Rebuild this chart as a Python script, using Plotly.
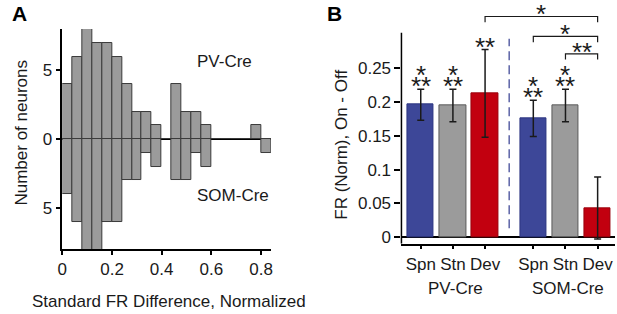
import plotly.graph_objects as go

# ---------------- Data ----------------
# Panel A: histogram of standardized FR difference (bin width 0.04)
bin_centers = [0.02, 0.06, 0.10, 0.14, 0.18, 0.22, 0.26, 0.30, 0.34, 0.38, 0.42,
               0.46, 0.50, 0.54, 0.58, 0.62, 0.66, 0.70, 0.74, 0.78, 0.82]
pv_counts = [4, 6, 8, 7, 7, 6, 4, 2, 2, 1, 0, 4, 2, 2, 1, 0, 0, 0, 0, 1, 0]
som_counts = [4, 6, 9, 9, 6, 6, 3, 3, 1, 2, 0, 3, 3, 1, 2, 0, 0, 0, 0, 0, 1]
a_xticks = [0, 0.2, 0.4, 0.6, 0.8]
a_xticktext = ["0", "0.2", "0.4", "0.6", "0.8"]
a_yticks = [-5, 0, 5]
a_yticktext = ["5", "0", "5"]

# Panel B: FR (Norm) On - Off
b_labels = ["Spn", "Stn", "Dev", "Spn", "Stn", "Dev"]
b_pos = [1, 2, 3, 4.5, 5.5, 6.5]
b_means = [0.196, 0.195, 0.213, 0.176, 0.195, 0.043]
b_errs = [0.023, 0.024, 0.065, 0.027, 0.024, 0.046]
b_colors = ["#3d4798", "#9b9b9b", "#c2000f", "#3d4798", "#9b9b9b", "#c2000f"]
b_edges = ["#2c3580", "#5a5a5a", "#9a000c", "#2c3580", "#5a5a5a", "#9a000c"]
b_stars_low = ["**", "**", "**", "**", "**", ""]
b_stars_top = ["*", "*", "", "*", "*", ""]
b_yticks = [0, 0.05, 0.1, 0.15, 0.2, 0.25]
b_yticktext = ["0", "0.05", "0.1", "0.15", "0.2", "0.25"]
groups = ["PV-Cre", "SOM-Cre"]
group_pos = [2, 5.5]
# significance brackets: (from, to, level, label)
brackets = [(3, 6.5, 0.327, "*"), (4.5, 6.5, 0.2975, "*"), (5.5, 6.5, 0.2717, "**")]

W, H = 617, 314
FONT = "Liberation Sans, Arial, sans-serif"
FS = 17

fig = go.Figure()

fig.add_trace(go.Bar(x=bin_centers, y=pv_counts, width=0.04,
                     marker=dict(color="#9b9b9b", line=dict(color="#3a3a3a", width=1)),
                     xaxis="x", yaxis="y", showlegend=False))
fig.add_trace(go.Bar(x=bin_centers, y=[-c for c in som_counts], width=0.04,
                     marker=dict(color="#9b9b9b", line=dict(color="#3a3a3a", width=1)),
                     xaxis="x", yaxis="y", showlegend=False))

fig.add_trace(go.Bar(x=b_pos, y=b_means, width=0.82,
                     marker=dict(color=b_colors, line=dict(color=b_edges, width=1)),
                     error_y=dict(type="data", array=b_errs, color="#1a1a1a",
                                  thickness=1.5, width=3.5),
                     xaxis="x2", yaxis="y2", showlegend=False))

def px_x(p):
    return p / W

def px_y(p):
    return (H - p) / H

axis_common = dict(showgrid=False, linecolor="black", linewidth=1.5,
                   ticks="outside", tickwidth=1.5, tickcolor="black",
                   tickfont=dict(family=FONT, size=FS, color="#1a1a1a"))

b_ymin, b_ymax = -0.0098, 0.345

fig.update_layout(
    width=W, height=H, margin=dict(l=0, r=0, t=0, b=0),
    paper_bgcolor="white", plot_bgcolor="white",
    barmode="overlay", bargap=0,
    font=dict(family=FONT, size=FS, color="#1a1a1a"),
    xaxis=dict(domain=[px_x(58), px_x(269)], range=[0, 0.84], anchor="y",
               tickvals=a_xticks, ticktext=a_xticktext, showline=True, ticklen=4,
               zeroline=False, **axis_common),
    yaxis=dict(domain=[px_y(251.5), px_y(29.3)], range=[-8, 8], anchor="x",
               tickvals=a_yticks, ticktext=a_yticktext, showline=True, ticklen=5,
               zeroline=True, zerolinecolor="black", zerolinewidth=1.5,
               **axis_common),
    xaxis2=dict(domain=[px_x(401), 1], range=[0.4, 7.04], anchor="y2",
                tickvals=b_pos, ticktext=b_labels, showline=True, ticklen=4,
                zeroline=False, **axis_common),
    yaxis2=dict(domain=[px_y(246), px_y(4.4)], range=[b_ymin, b_ymax], anchor="x2",
                tickvals=b_yticks, ticktext=b_yticktext, showline=False, ticklen=6,
                zeroline=True, zerolinecolor="black", zerolinewidth=1.5,
                **axis_common),
)

shapes = []
# y-axis line for panel B (stops at ~0.303)
shapes.append(dict(type="line", xref="x2 domain", yref="y2", x0=0, x1=0,
                   y0=b_ymin, y1=0.303, line=dict(color="black", width=1.5)))
# dashed separator
shapes.append(dict(type="line", xref="x2", yref="y2", x0=3.75, x1=3.75,
                   y0=0.013, y1=0.294, line=dict(color="#5b63a6", width=1.5, dash="9px,5px")))
for x0, x1, lvl, lab in brackets:
    h = 0.0085
    shapes.append(dict(type="path", xref="x2", yref="y2",
                       path=f"M {x0},{lvl - h} L {x0},{lvl} L {x1},{lvl} L {x1},{lvl - h}",
                       line=dict(color="#1a1a1a", width=1.2)))
fig.update_layout(shapes=shapes)

ann = []
star_font = dict(family=FONT, size=26, color="#1a1a1a")
for x, m, e, lo, tp in zip(b_pos, b_means, b_errs, b_stars_low, b_stars_top):
    if lo:
        ann.append(dict(xref="x2", yref="y2", x=x, y=m + e, text=lo, showarrow=False,
                        yanchor="middle", yshift=3, font=star_font))
    if tp:
        ann.append(dict(xref="x2", yref="y2", x=x, y=m + e, text=tp, showarrow=False,
                        yanchor="middle", yshift=14, font=star_font))
for x0, x1, lvl, lab in brackets:
    ann.append(dict(xref="x2", yref="y2", x=(x0 + x1) / 2, y=lvl, text=lab,
                    showarrow=False, yanchor="middle", yshift=2, font=star_font))
for g, gx in zip(groups, group_pos):
    ann.append(dict(xref="x2", yref="paper", x=gx, y=px_y(291.7), text=g,
                    showarrow=False, yanchor="middle", xshift=3,
                    font=dict(family=FONT, size=FS, color="#1a1a1a")))
# panel A labels
ann.append(dict(xref="x", yref="y", x=0.536, y=5.65, text="PV-Cre", showarrow=False,
                xanchor="left", yanchor="middle", font=dict(family=FONT, size=FS)))
ann.append(dict(xref="x", yref="y", x=0.536, y=-4.09, text="SOM-Cre", showarrow=False,
                xanchor="left", yanchor="middle", font=dict(family=FONT, size=FS)))
# axis titles
ann.append(dict(xref="paper", yref="paper", x=px_x(17), y=px_y(134), text="Number of neurons",
                textangle=-90, showarrow=False, xanchor="center", yanchor="middle",
                font=dict(family=FONT, size=FS)))
ann.append(dict(xref="paper", yref="paper", x=px_x(25), y=px_y(304),
                text="Standard FR Difference, Normalized", showarrow=False,
                xanchor="left", yanchor="middle", font=dict(family=FONT, size=FS)))
ann.append(dict(xref="paper", yref="paper", x=px_x(340), y=px_y(146), text="FR (Norm), On - Off",
                textangle=-90, showarrow=False, xanchor="center", yanchor="middle",
                font=dict(family=FONT, size=FS)))
# panel letters
ann.append(dict(xref="paper", yref="paper", x=px_x(14.5), y=px_y(14), text="<b>A</b>",
                showarrow=False, xanchor="center", yanchor="middle",
                font=dict(family=FONT, size=21, color="black")))
ann.append(dict(xref="paper", yref="paper", x=px_x(333.5), y=px_y(14), text="<b>B</b>",
                showarrow=False, xanchor="center", yanchor="middle",
                font=dict(family=FONT, size=21, color="black")))
fig.update_layout(annotations=ann)

fig.write_html("out.html", config={"displayModeBar": False},
               post_script="document.body.style.margin='0';document.body.style.overflow='hidden';")
